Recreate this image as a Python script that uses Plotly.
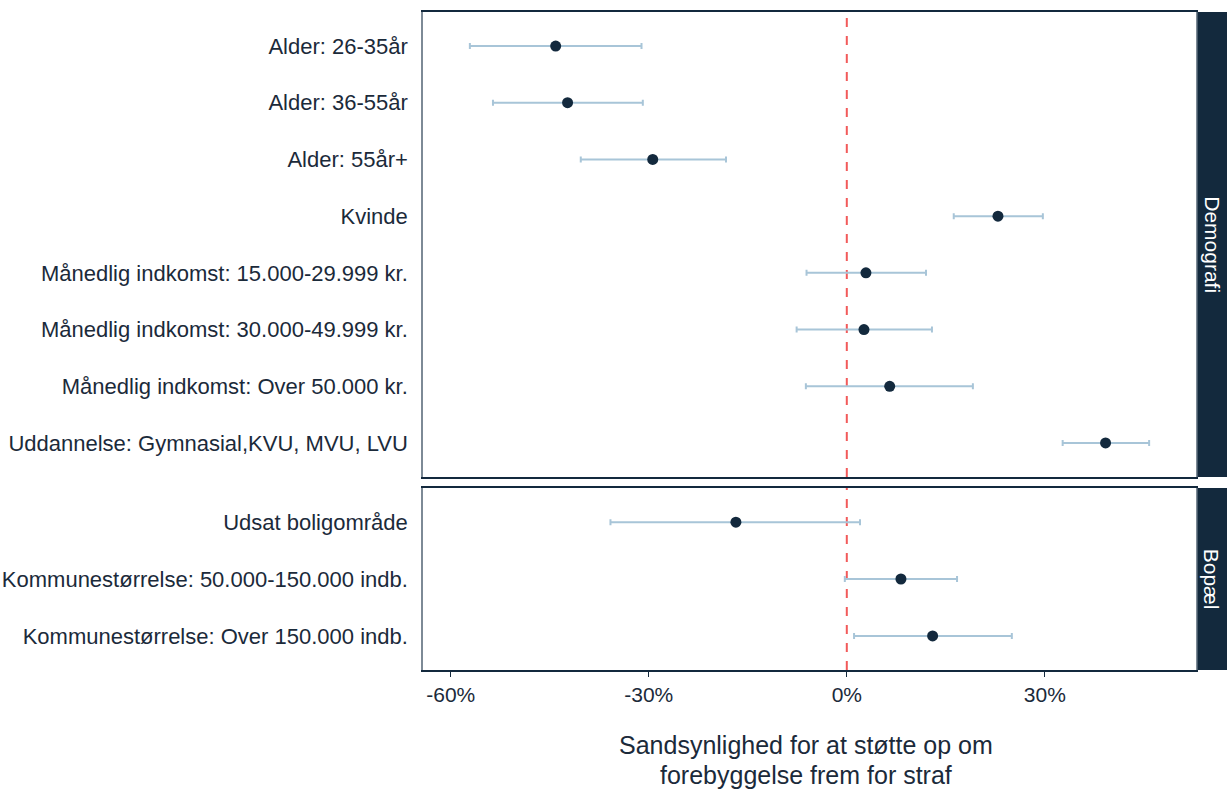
import plotly.graph_objects as go
from plotly.subplots import make_subplots

# Data (percent)
demo_labels = ["Alder: 26-35år", "Alder: 36-55år", "Alder: 55år+", "Kvinde",
               "Månedlig indkomst: 15.000-29.999 kr.", "Månedlig indkomst: 30.000-49.999 kr.",
               "Månedlig indkomst: Over 50.000 kr.", "Uddannelse: Gymnasial,KVU, MVU, LVU"]
demo_est = [-44.1, -42.3, -29.4, 22.9, 2.9, 2.6, 6.5, 39.2]
demo_low = [-57.1, -53.6, -40.3, 16.2, -6.1, -7.6, -6.2, 32.7]
demo_high = [-31.1, -30.9, -18.3, 29.7, 12.0, 12.9, 19.1, 45.8]

bop_labels = ["Udsat boligområde", "Kommunestørrelse: 50.000-150.000 indb.",
              "Kommunestørrelse: Over 150.000 indb."]
bop_est = [-16.8, 8.2, 13.0]
bop_low = [-35.8, -0.3, 1.1]
bop_high = [2.0, 16.7, 25.0]

facet_names = ["Demografi", "Bopæl"]
x_ticks = [-60, -30, 0, 30]
x_title_lines = ["Sandsynlighed for at støtte op om", "forebyggelse frem for straf"]

NAVY = "#13293d"
TEXT = "#1b2a3a"
ERR = "#a8c5d8"
FONT = "Liberation Sans, Arial, sans-serif"

W, H = 1227, 791
ml, mr, mt, mb = 423, 31, 12, 121
ph = H - mt - mb
pw = W - ml - mr

top_dom = [(670 - 477) / ph, 1.0]
bot_dom = [0.0, (670 - 488) / ph]

fig = make_subplots(rows=2, cols=1, shared_xaxes=True)

for row, (labels, est, lo, hi) in enumerate(
        [(demo_labels, demo_est, demo_low, demo_high),
         (bop_labels, bop_est, bop_low, bop_high)], start=1):
    ys = list(range(len(labels)))
    fig.add_trace(go.Scatter(
        x=est, y=ys, mode="markers",
        marker=dict(color=NAVY, size=11),
        error_x=dict(type="data", symmetric=False,
                     array=[h - e for h, e in zip(hi, est)],
                     arrayminus=[e - l for e, l in zip(est, lo)],
                     color=ERR, thickness=2, width=3),
        showlegend=False, hoverinfo="skip"), row=row, col=1)
    fig.update_yaxes(tickmode="array", tickvals=ys, ticktext=labels,
                     range=[len(labels) - 0.4, -0.6], row=row, col=1)

xr = [-64.2, 52.9]
common_x = dict(range=xr, tickvals=x_ticks, ticktext=[f"{t}%" for t in x_ticks],
                showgrid=False, zeroline=False, showline=True, linecolor=NAVY,
                linewidth=1.5, mirror=True, ticks="outside", ticklen=5,
                tickcolor=NAVY, automargin=False,
                tickfont=dict(size=21, color=TEXT, family=FONT))
fig.update_xaxes(**common_x)
fig.update_xaxes(showticklabels=False, ticks="", row=1, col=1)
fig.update_yaxes(showgrid=False, zeroline=False, showline=True, linecolor="#7d8a96",
                 linewidth=1.5, mirror=True, ticks="", ticklabelstandoff=9,
                 automargin=False,
                 tickfont=dict(size=22, color=TEXT, family=FONT))

fig.update_layout(
    yaxis=dict(domain=top_dom), yaxis2=dict(domain=bot_dom),
    width=W, height=H, margin=dict(l=ml, r=mr, t=mt, b=mb, autoexpand=False),
    plot_bgcolor="white", paper_bgcolor="white",
    font=dict(family=FONT, color=TEXT),
)

# x-axis title (two lines)
for txt, ypix in zip(x_title_lines, (745, 775)):
    fig.add_annotation(xref="paper", yref="paper", x=(806 - ml) / pw,
                       y=-(ypix - 670) / ph, text=txt, showarrow=False,
                       xanchor="center", yanchor="middle",
                       font=dict(size=25, color=TEXT, family=FONT))

# dashed zero line in both panels
for yref, dom in (("y domain", top_dom), ("y2 domain", bot_dom)):
    fig.add_shape(type="line", xref="x" if yref == "y domain" else "x2", yref=yref,
                  x0=0, x1=0, y0=0, y1=1,
                  line=dict(color="#f25a5a", width=2, dash="dash"), layer="below")

# facet strips
sx0 = 1 + 1.5 / pw
sx1 = 1 + mr / pw
for name, dom in zip(facet_names, (top_dom, bot_dom)):
    fig.add_shape(type="rect", xref="paper", yref="paper", x0=sx0, x1=sx1,
                  y0=dom[0], y1=dom[1], fillcolor=NAVY, line=dict(width=0))
    fig.add_annotation(xref="paper", yref="paper", x=(sx0 + sx1) / 2,
                       y=(dom[0] + dom[1]) / 2, text=name, textangle=90,
                       xanchor="center", yanchor="middle",
                       showarrow=False, font=dict(size=21, color="white", family=FONT))

fig.write_html("out.html", config={"displayModeBar": False},
               post_script="document.body.style.margin='0';document.body.style.overflow='hidden';")
